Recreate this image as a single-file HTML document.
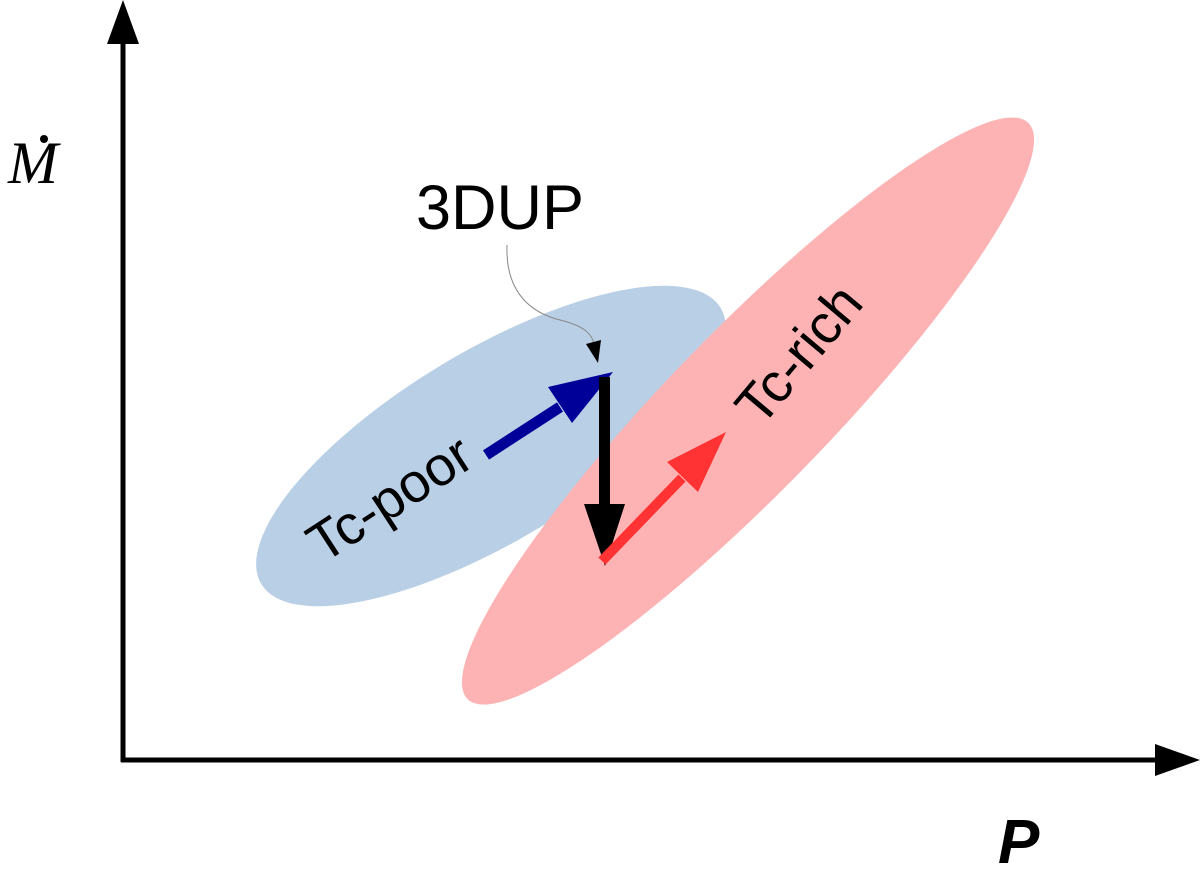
<!DOCTYPE html>
<html><head><meta charset="utf-8"><style>html,body{margin:0;padding:0;background:#fff}svg{display:block}</style></head>
<body>
<svg width="1200" height="870" viewBox="0 0 1200 870" xmlns="http://www.w3.org/2000/svg">
<ellipse cx="491" cy="446" rx="268" ry="95" transform="rotate(-31 491 446)" fill="#b9cfe6"/>
<ellipse cx="748" cy="411" rx="402" ry="80" transform="rotate(-45.8 748 411)" fill="#fdb3b3"/>
<line x1="123" y1="40" x2="123" y2="762" stroke="#000" stroke-width="5"/>
<polygon points="123,0 107,44 139,44" fill="#000"/>
<line x1="121" y1="760" x2="1160" y2="760" stroke="#000" stroke-width="5"/>
<polygon points="1200,760 1155,744 1155,776" fill="#000"/>
<text x="8" y="183" font-family="Liberation Serif, serif" font-style="italic" font-size="60">M</text>
<circle cx="44" cy="139" r="4" fill="#000"/>
<text x="998" y="863" font-family="Liberation Sans, sans-serif" font-style="italic" font-weight="bold" font-size="62">P</text>
<text x="416" y="229" font-family="Liberation Sans, sans-serif" font-size="63">3DUP</text>
<path d="M507,245 C505,300 540,315 560,320 C585,326 593,335 594,345" fill="none" stroke="#888" stroke-width="1"/>
<polygon points="598,363 586,344 601,340" fill="#000"/>
<line x1="486" y1="455" x2="560" y2="407" stroke="#000099" stroke-width="11"/>
<polygon points="613,372 548,387 572,423" fill="#000099"/>
<rect x="599" y="377" width="11" height="130" fill="#000"/>
<polygon points="584,504 625,504 605,566" fill="#000"/>
<line x1="602" y1="561" x2="682" y2="478" stroke="#ff3333" stroke-width="10"/>
<polygon points="726,432 667,462 698,492" fill="#ff3333"/>
<text x="0" y="0" transform="translate(392,502) rotate(-33)" text-anchor="middle" dominant-baseline="middle" font-family="Liberation Sans, sans-serif" font-size="55">Tc-poor</text>
<text x="0" y="0" transform="translate(802,357) rotate(-50)" text-anchor="middle" dominant-baseline="middle" font-family="Liberation Sans, sans-serif" font-size="55">Tc-rich</text>
</svg>
</body></html>
